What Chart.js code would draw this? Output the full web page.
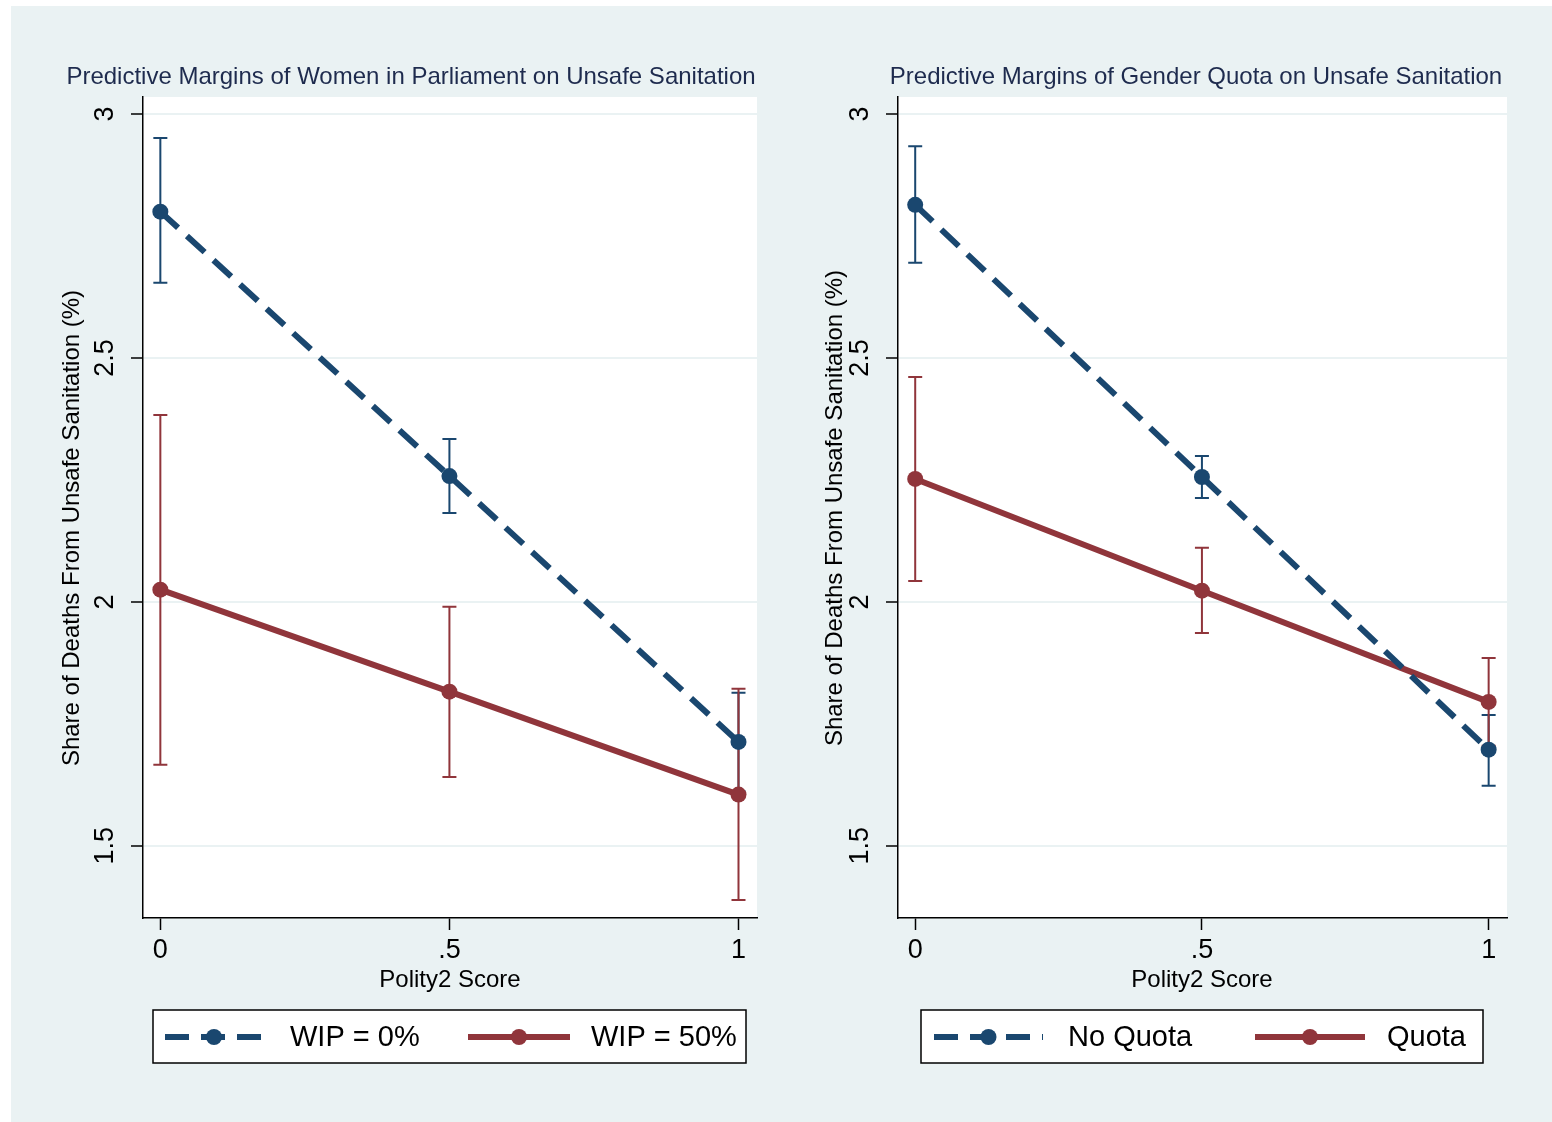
<!DOCTYPE html>
<html>
<head>
<meta charset="utf-8">
<script src="https://cdn.jsdelivr.net/npm/chart.js@4"></script>
<style>
  body { margin: 0; background: #fff; width: 1552px; height: 1122px; overflow: hidden; position: relative; }
  #bg { position: absolute; left: 11px; top: 6px; right: 0; bottom: 0; background: #eaf2f3; }
  .pane { position: absolute; top: 0; width: 776px; height: 1122px; }
</style>
</head>
<body>
<div id="bg"></div>
<div class="pane" style="left:0"><canvas id="left"></canvas></div>
<div class="pane" style="left:776px"><canvas id="right"></canvas></div>
<script>
// Polity2 score points and axis ticks
const xVals = [0, 0.5, 1];
const xTicks = [0, 0.5, 1];
const xLabels = ["0", ".5", "1"];
const yTicks = [1.5, 2, 2.5, 3];
const yLabels = ["1.5", "2", "2.5", "3"];

// left panel: women in parliament
const wip0 = [2.80, 2.258, 1.713];
const wip0Lo = [2.654, 2.182, 1.612];
const wip0Hi = [2.951, 2.334, 1.814];
const wip50 = [2.025, 1.816, 1.605];
const wip50Lo = [1.666, 1.641, 1.389];
const wip50Hi = [2.383, 1.990, 1.822];

// right panel: gender quota
const noQuota = [2.814, 2.256, 1.697];
const noQuotaLo = [2.695, 2.213, 1.623];
const noQuotaHi = [2.934, 2.299, 1.768];
const quota = [2.252, 2.023, 1.795];
const quotaLo = [2.043, 1.936, 1.705];
const quotaHi = [2.461, 2.111, 1.885];

const BLUE = "#1a476f";
const RED = "#90353b";
const BG = "#eaf2f3";
const FONT = '"Liberation Sans", Arial, Helvetica, sans-serif';
const DASH = [24, 12];

// white plot region
const plotBg = {
  id: "plotBg",
  beforeDraw(chart) {
    const a = chart.chartArea, ctx = chart.ctx;
    ctx.save();
    ctx.fillStyle = "#fff";
    ctx.fillRect(a.left, a.top, a.right - a.left, a.bottom - a.top);
    ctx.restore();
  }
};

// confidence interval caps, drawn under the lines
const ciBars = {
  id: "ciBars",
  beforeDatasetsDraw(chart) {
    const ctx = chart.ctx, xs = chart.scales.x, ys = chart.scales.y;
    ctx.save();
    ctx.lineWidth = 2;
    chart.data.datasets.forEach(ds => {
      ctx.strokeStyle = ds.borderColor;
      xVals.forEach((x, i) => {
        const px = xs.getPixelForValue(x);
        const y1 = ys.getPixelForValue(ds.lo[i]);
        const y2 = ys.getPixelForValue(ds.hi[i]);
        ctx.beginPath();
        ctx.moveTo(px, y1); ctx.lineTo(px, y2);
        ctx.moveTo(px - 7, y1); ctx.lineTo(px + 7, y1);
        ctx.moveTo(px - 7, y2); ctx.lineTo(px + 7, y2);
        ctx.stroke();
      });
    });
    ctx.restore();
  }
};

// titles and stata-style legend box
const texts = {
  id: "texts",
  afterDraw(chart, args, o) {
    const ctx = chart.ctx;
    ctx.save();
    ctx.textBaseline = "middle";
    ctx.textAlign = "center";
    ctx.fillStyle = "#1e2b4e";
    ctx.font = "24px " + FONT;
    ctx.fillText(o.title, o.titleX, 77);

    ctx.fillStyle = "#000";
    ctx.font = "24px " + FONT;
    ctx.fillText("Polity2 Score", o.xTitleX, 980);
    ctx.save();
    ctx.translate(o.yTitleX, o.yTitleY);
    ctx.rotate(-Math.PI / 2);
    ctx.fillText("Share of Deaths From Unsafe Sanitation (%)", 0, 0);
    ctx.restore();

    // legend
    const L = o.legend;
    ctx.fillStyle = "#fff";
    ctx.fillRect(L.x, 1010, L.w, 53);
    ctx.strokeStyle = "#000";
    ctx.lineWidth = 1.5;
    ctx.strokeRect(L.x, 1010, L.w, 53);
    const ly = 1037;
    chart.data.datasets.forEach((ds, i) => {
      const it = L.items[i];
      ctx.strokeStyle = ds.borderColor;
      ctx.lineWidth = 6;
      ctx.setLineDash(ds.borderDash || []);
      ctx.beginPath();
      ctx.moveTo(it.x0, ly); ctx.lineTo(it.x1, ly);
      ctx.stroke();
      ctx.setLineDash([]);
      ctx.fillStyle = ds.borderColor;
      ctx.beginPath();
      ctx.arc((it.x0 + it.x1) / 2, ly, 8, 0, Math.PI * 2);
      ctx.fill();
      ctx.fillStyle = "#000";
      ctx.textAlign = "left";
      ctx.font = "29px " + FONT;
      ctx.fillText(ds.label, it.tx, ly + 1);
    });
    ctx.restore();
  }
};

function makeChart(id, p) {
  return new Chart(document.getElementById(id), {
    type: "line",
    data: {
      datasets: p.series.map(s => ({
        label: s.label,
        data: xVals.map((x, i) => ({ x: x, y: s.y[i] })),
        lo: s.lo,
        hi: s.hi,
        borderColor: s.color,
        backgroundColor: s.color,
        pointBackgroundColor: s.color,
        pointBorderColor: s.color,
        borderWidth: 6,
        borderDash: s.dash,
        pointRadius: 8,
        pointHoverRadius: 8,
        pointBorderWidth: 0,
        tension: 0
      }))
    },
    options: {
      responsive: true,
      maintainAspectRatio: false,
      animation: false,
      events: [],
      layout: { padding: { left: p.plotLeft - 60, top: 97, right: 776 - p.plotRight, bottom: 154 } },
      plugins: {
        legend: { display: false },
        tooltip: { enabled: false },
        texts: p.texts
      },
      scales: {
        x: {
          type: "linear",
          min: -0.03,
          max: 1.032,
          afterBuildTicks: s => { s.ticks = xTicks.map(v => ({ value: v })); },
          afterFit: s => { s.height = 50; },
          ticks: {
            callback: (v, i) => xLabels[i],
            color: "#000",
            font: { family: FONT, size: 27 },
            padding: 4,
            maxRotation: 0
          },
          grid: { drawOnChartArea: false, tickLength: 12, tickColor: "#000", tickWidth: 1.5 },
          border: { display: true, color: "#000", width: 1.5 }
        },
        y: {
          min: 1.352,
          max: 3.035,
          afterBuildTicks: s => { s.ticks = yTicks.map(v => ({ value: v })); },
          afterFit: s => { s.width = 60; },
          ticks: {
            callback: (v, i) => yLabels[i],
            color: "#000",
            font: { family: FONT, size: 27 },
            minRotation: 90,
            maxRotation: 90,
            crossAlign: "center",
            padding: 7
          },
          grid: { color: BG, lineWidth: 2, tickLength: 12, tickColor: "#000", tickWidth: 1.5 },
          border: { display: true, color: "#000", width: 1.5 }
        }
      }
    },
    plugins: [plotBg, ciBars, texts]
  });
}

makeChart("left", {
  plotLeft: 143, plotRight: 757,
  series: [
    { label: "WIP = 0%", y: wip0, lo: wip0Lo, hi: wip0Hi, color: BLUE, dash: DASH },
    { label: "WIP = 50%", y: wip50, lo: wip50Lo, hi: wip50Hi, color: RED, dash: [] }
  ],
  texts: {
    title: "Predictive Margins of Women in Parliament on Unsafe Sanitation",
    titleX: 411, xTitleX: 450, yTitleX: 72, yTitleY: 528,
    legend: { x: 153, w: 593, items: [{ x0: 165, x1: 263, tx: 290 }, { x0: 468, x1: 570, tx: 591 }] }
  }
});

makeChart("right", {
  plotLeft: 122, plotRight: 731,
  series: [
    { label: "No Quota", y: noQuota, lo: noQuotaLo, hi: noQuotaHi, color: BLUE, dash: DASH },
    { label: "Quota", y: quota, lo: quotaLo, hi: quotaHi, color: RED, dash: [] }
  ],
  texts: {
    title: "Predictive Margins of Gender Quota on Unsafe Sanitation",
    titleX: 420, xTitleX: 426, yTitleX: 59, yTitleY: 508,
    legend: { x: 145, w: 562, items: [{ x0: 158, x1: 267, tx: 292 }, { x0: 479, x1: 589, tx: 611 }] }
  }
});
</script>
</body>
</html>
